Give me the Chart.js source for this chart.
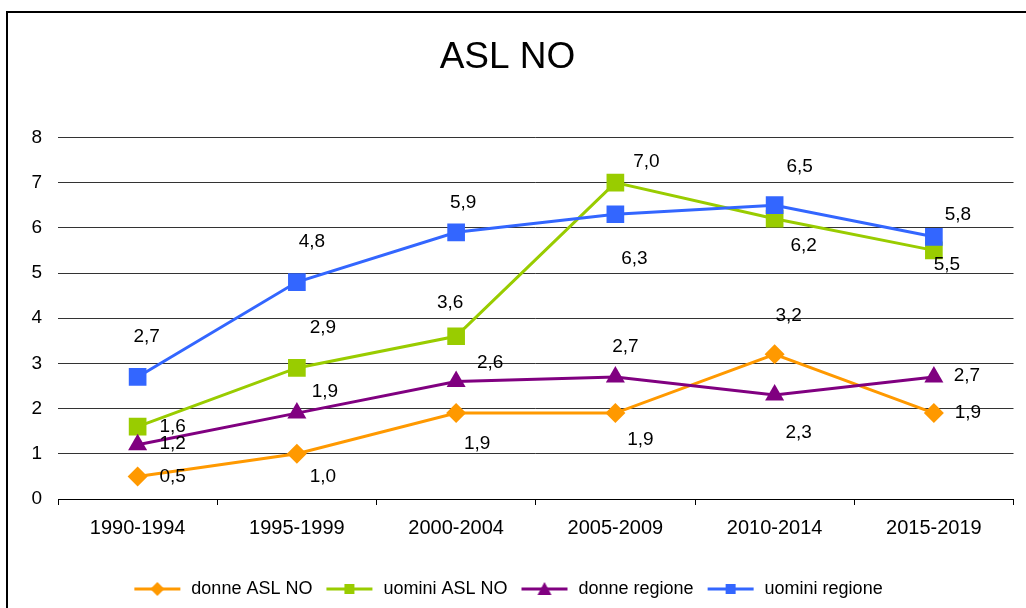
<!DOCTYPE html>
<html><head><meta charset="utf-8">
<script src="https://cdn.jsdelivr.net/npm/chart.js@4.4.0/dist/chart.umd.min.js"></script>
<style>html,body{margin:0;padding:0;background:#fff;overflow:hidden}</style>
</head><body>
<canvas id="c" width="1026" height="608"></canvas>
<script>
// ---- data ----
const categories = ['1990-1994', '1995-1999', '2000-2004', '2005-2009', '2010-2014', '2015-2019'];
const donneASL = [0.5, 1.0, 1.9, 1.9, 3.2, 1.9];
const uominiASL = [1.6, 2.9, 3.6, 7.0, 6.2, 5.5];
const donneRegione = [1.2, 1.9, 2.6, 2.7, 2.3, 2.7];
const uominiRegione = [2.7, 4.8, 5.9, 6.3, 6.5, 5.8];
const seriesNames = ['donne ASL NO', 'uomini ASL NO', 'donne regione', 'uomini regione'];
const yTicks = [0, 1, 2, 3, 4, 5, 6, 7, 8];
const titleText = 'ASL NO';

// ---- styles ----
const FONT = "'Liberation Sans', Arial, Helvetica, sans-serif";
const colors = ['#FF9900', '#99CC00', '#800080', '#3366FF'];
const shapes = ['rectRot', 'rect', 'triangle', 'rect'];
const radii = [10, 12.5, 11, 12.5];
const drawOrder = [4, 3, 2, 1];
// label offsets relative to point (dx, dy)
const labelOffsets = [
  [[35,0],[26,23],[21,31],[25,27],[14,-39],[34,0]],
  [[35,0],[26,-40],[-6,-34],[31,-21],[29,27],[13,14]],
  [[35,-1],[28,-21],[34,-19],[10,-30],[24,38],[33,-1]],
  [[9,-40],[15,-40],[7,-30],[19,45],[25,-38],[24,-22]]
];

function legendIcon(i) {
  const w = 50, h = 20;
  const cv = document.createElement('canvas');
  cv.width = w; cv.height = h;
  const c = cv.getContext('2d');
  c.strokeStyle = colors[i]; c.lineWidth = 3;
  c.beginPath(); c.moveTo(2, h/2); c.lineTo(w-2, h/2); c.stroke();
  c.fillStyle = colors[i];
  const cx = w/2, cy = h/2;
  c.beginPath();
  if (shapes[i] === 'rectRot') {
    c.moveTo(cx, cy-7); c.lineTo(cx+7, cy); c.lineTo(cx, cy+7); c.lineTo(cx-7, cy);
  } else if (shapes[i] === 'triangle') {
    c.moveTo(cx, cy-7); c.lineTo(cx+7, cy+6); c.lineTo(cx-7, cy+6);
  } else {
    c.rect(cx-5, cy-5, 10, 10);
  }
  c.closePath(); c.fill();
  return cv;
}

const seriesData = [donneASL, uominiASL, donneRegione, uominiRegione];
const datasets = seriesData.map((d, i) => ({
  label: seriesNames[i],
  data: d,
  borderColor: colors[i],
  backgroundColor: colors[i],
  pointBackgroundColor: colors[i],
  pointBorderWidth: 0,
  pointBorderColor: colors[i],
  pointStyle: shapes[i],
  pointRadius: radii[i],
  pointHoverRadius: radii[i],
  borderWidth: 3,
  tension: 0,
  fill: false,
  order: drawOrder[i]
}));

const framePlugin = {
  id: 'frame',
  beforeDraw(chart) {
    const ctx = chart.ctx;
    ctx.save();
    ctx.fillStyle = '#fff';
    ctx.fillRect(0, 0, chart.width, chart.height);
    ctx.strokeStyle = '#000';
    ctx.lineWidth = 2;
    ctx.strokeRect(7, 12, chart.width + 20, chart.height + 20);
    ctx.restore();
  }
};

const labelPlugin = {
  id: 'valueLabels',
  afterDatasetsDraw(chart) {
    const ctx = chart.ctx;
    ctx.save();
    ctx.font = '19px ' + FONT;
    ctx.fillStyle = '#000';
    ctx.textAlign = 'center';
    ctx.textBaseline = 'middle';
    chart.data.datasets.forEach((ds, di) => {
      const meta = chart.getDatasetMeta(di);
      meta.data.forEach((pt, j) => {
        const v = ds.data[j];
        const off = labelOffsets[di][j];
        ctx.fillText(v.toFixed(1).replace('.', ','), pt.x + off[0], pt.y + off[1]);
      });
    });
    ctx.restore();
  }
};

Chart.defaults.font.family = FONT;
Chart.defaults.color = '#000';

new Chart(document.getElementById('c'), {
  type: 'line',
  data: { labels: categories, datasets },
  options: {
    responsive: false,
    animation: false,
    layout: { padding: { top: 11, right: 11, left: 0, bottom: 0 } },
    plugins: {
      title: {
        display: true, text: titleText,
        font: { size: 37, weight: 'normal', family: FONT },
        color: '#000',
        padding: { top: 25, bottom: 57 }
      },
      legend: {
        position: 'bottom',
        labels: {
          usePointStyle: true,
          pointStyleWidth: 50,
          boxHeight: 18,
          padding: 12,
          font: { size: 18, family: FONT },
          color: '#000',
          generateLabels(chart) {
            return chart.data.datasets.map((ds, i) => ({
              text: ds.label,
              datasetIndex: i,
              pointStyle: legendIcon(i),
              fillStyle: colors[i],
              strokeStyle: colors[i],
              lineWidth: 0,
              hidden: false,
              fontColor: '#000'
            }));
          }
        }
      },
      tooltip: { enabled: false }
    },
    scales: {
      x: {
        offset: true,
        afterFit(scale) { scale.height = scale.height + 17; },
        grid: { offset: true, drawOnChartArea: false, drawTicks: true, tickLength: 6, color: '#000' },
        border: { display: true, color: '#000', width: 1 },
        ticks: { font: { size: 20, family: FONT }, color: '#000', padding: 11, maxRotation: 0 }
      },
      y: {
        min: yTicks[0], max: yTicks[yTicks.length - 1],
        afterFit(scale) { scale.width = 58; },
        afterBuildTicks(scale) { scale.ticks = yTicks.map(v => ({ value: v })); },
        grid: { color: '#333', drawTicks: false, lineWidth: 1 },
        border: { display: false },
        ticks: { font: { size: 19, family: FONT }, color: '#000', padding: 16, stepSize: 1 }
      }
    }
  },
  plugins: [framePlugin, labelPlugin]
});
</script>
</body></html>
